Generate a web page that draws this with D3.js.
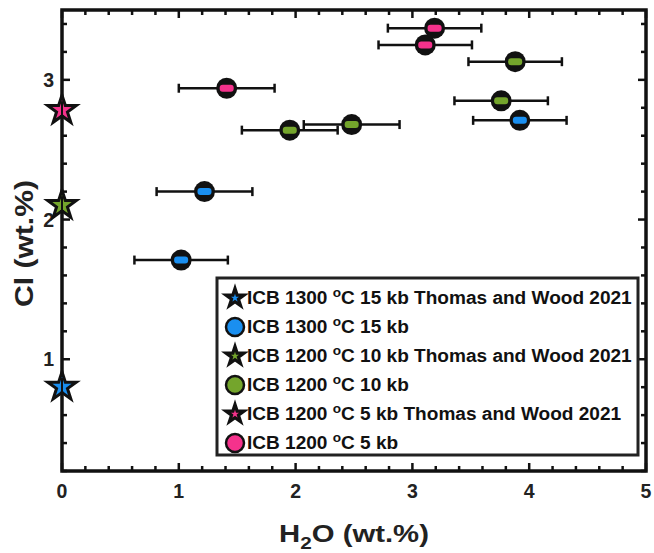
<!DOCTYPE html>
<html><head><meta charset="utf-8">
<script src="https://cdn.jsdelivr.net/npm/d3@7"></script>
<style>
html,body{margin:0;padding:0;background:#fff;}
svg{display:block;font-family:"Liberation Sans",Arial,Helvetica,sans-serif;font-weight:bold;}
</style></head>
<body>
<svg id="chart" width="654" height="553"></svg>
<script>
// ---- data ----
const seriesNames = [
  "ICB 1300 °C 15 kb Thomas and Wood 2021",
  "ICB 1300 °C 15 kb",
  "ICB 1200 °C 10 kb Thomas and Wood 2021",
  "ICB 1200 °C 10 kb",
  "ICB 1200 °C 5 kb Thomas and Wood 2021",
  "ICB 1200 °C 5 kb"
];
const colors = ["#1a8ff0", "#74a52c", "#f5328c"]; // 15 kb, 10 kb, 5 kb

const blueX = [1.02, 1.22, 3.92];
const blueY = [1.71, 2.20, 2.71];
const blueErr = [0.40, 0.41, 0.40];

const greenX = [1.95, 2.48, 3.76, 3.88];
const greenY = [2.64, 2.68, 2.85, 3.13];
const greenErr = [0.41, 0.41, 0.40, 0.40];

const pinkX = [1.41, 3.11, 3.19];
const pinkY = [2.94, 3.25, 3.37];
const pinkErr = [0.41, 0.40, 0.40];

const starX = [0, 0, 0];           // Thomas and Wood 2021 (15 kb, 10 kb, 5 kb)
const starY = [0.81, 2.11, 2.79];
const starYErr = [0.05, 0.05, 0.05];

const xTicks = [0, 1, 2, 3, 4, 5];
const yTicks = [1, 2, 3];

// ---- layout ----
const svg = d3.select("#chart");
const L = 62, R = 646, T = 10, B = 471;
const x = d3.scaleLinear().domain([0, 5]).range([L, R]);
const y = d3.scaleLinear().domain([0.2, 3.5]).range([B, T]);

function starPath(Ro) {
  const Ri = Ro * 0.382, pts = [];
  for (let i = 0; i < 10; i++) {
    const a = -Math.PI / 2 + i * Math.PI / 5, r = i % 2 ? Ri : Ro;
    pts.push([r * Math.cos(a), r * Math.sin(a)]);
  }
  return "M" + pts.map(p => p.join(",")).join("L") + "Z";
}

// ---- axes box & ticks ----
const g = svg.append("g");
const xMinor = d3.range(0, 5.001, 0.2);
const yMinor = d3.range(0.2, 3.501, 0.2);
const isMajor = v => Math.abs(v - Math.round(v)) < 1e-6;

xMinor.forEach(v => {
  const len = isMajor(v) ? 8 : 5;
  g.append("line").attr("x1", x(v)).attr("x2", x(v)).attr("y1", B).attr("y2", B - len)
    .attr("stroke", "#111").attr("stroke-width", 2.5);
  g.append("line").attr("x1", x(v)).attr("x2", x(v)).attr("y1", T).attr("y2", T + len)
    .attr("stroke", "#111").attr("stroke-width", 2.5);
});
yMinor.forEach(v => {
  const len = isMajor(v) ? 8 : 5;
  g.append("line").attr("y1", y(v)).attr("y2", y(v)).attr("x1", L).attr("x2", L + len)
    .attr("stroke", "#111").attr("stroke-width", 2.5);
  g.append("line").attr("y1", y(v)).attr("y2", y(v)).attr("x1", R).attr("x2", R - len)
    .attr("stroke", "#111").attr("stroke-width", 2.5);
});
g.append("rect").attr("x", L).attr("y", T).attr("width", R - L).attr("height", B - T)
  .attr("fill", "none").attr("stroke", "#111").attr("stroke-width", 3.5);

// tick labels
g.selectAll(".xt").data(xTicks).enter().append("text")
  .attr("x", d => x(d)).attr("y", 498).attr("text-anchor", "middle")
  .attr("font-size", 19.5).attr("fill", "#222").text(d => d);
g.selectAll(".yt").data(yTicks).enter().append("text")
  .attr("x", 54).attr("y", d => y(d) + 7).attr("text-anchor", "end")
  .attr("font-size", 19.5).attr("fill", "#222").text(d => d);

// axis labels
const xl = svg.append("text").attr("x", (L + R) / 2).attr("y", 542).attr("text-anchor", "middle")
  .attr("font-size", 24).attr("fill", "#222");
xl.append("tspan").text("H");
xl.append("tspan").attr("font-size", 17).attr("dy", 7).text("2");
xl.append("tspan").attr("dy", -7).text("O (wt.%)");
const xlw = xl.node().getComputedTextLength();
xl.attr("transform", `translate(${(L + R) / 2},0) scale(${150 / xlw},1) translate(${-(L + R) / 2},0)`);

const yl = svg.append("text").attr("transform", `translate(33,243.5) rotate(-90)`)
  .attr("text-anchor", "middle").attr("font-size", 25).attr("fill", "#222").text("Cl (wt.%)");
const ylw = yl.node().getComputedTextLength();
yl.attr("transform", `translate(33,243.5) rotate(-90) scale(${127 / ylw},1)`);

// ---- data marks ----
const groups = [
  {xs: blueX, ys: blueY, es: blueErr, c: colors[0]},
  {xs: greenX, ys: greenY, es: greenErr, c: colors[1]},
  {xs: pinkX, ys: pinkY, es: pinkErr, c: colors[2]}
];
const pg = svg.append("g");
groups.forEach(gr => {
  const data = gr.xs.map((v, i) => ({x: v, y: gr.ys[i], e: gr.es[i]}));
  data.forEach(d => {
    const yy = y(d.y), x0 = x(d.x - d.e), x1 = x(d.x + d.e);
    pg.append("line").attr("x1", x0).attr("x2", x1).attr("y1", yy).attr("y2", yy)
      .attr("stroke", "#111").attr("stroke-width", 2.5);
    [x0, x1].forEach(xc => pg.append("line").attr("x1", xc).attr("x2", xc)
      .attr("y1", yy - 4.5).attr("y2", yy + 4.5).attr("stroke", "#111").attr("stroke-width", 2.5));
  });
  data.forEach(d => {
    pg.append("circle").attr("cx", x(d.x)).attr("cy", y(d.y)).attr("r", 10.5).attr("fill", "#111");
    pg.append("rect").attr("x", x(d.x) - 7).attr("y", y(d.y) - 3.5).attr("width", 14).attr("height", 7)
      .attr("rx", 3).attr("fill", gr.c);
  });
});

// stars (Thomas and Wood 2021)
starX.forEach((sx, i) => {
  const cx = x(sx), cy = y(starY[i]);
  pg.append("path").attr("d", starPath(15)).attr("transform", `translate(${cx},${cy + 1})`)
    .attr("fill", colors[i]).attr("stroke", "#111").attr("stroke-width", 3).attr("stroke-linejoin", "miter");
  const y0 = y(starY[i] - starYErr[i]), y1 = y(starY[i] + starYErr[i]);
  pg.append("line").attr("x1", cx).attr("x2", cx).attr("y1", y0).attr("y2", y1)
    .attr("stroke", "#111").attr("stroke-width", 2);
  [y0, y1].forEach(yc => pg.append("line").attr("x1", cx - 2).attr("x2", cx + 2)
    .attr("y1", yc).attr("y2", yc).attr("stroke", "#111").attr("stroke-width", 2));
});

// ---- legend ----
const lg = svg.append("g");
lg.append("rect").attr("x", 217).attr("y", 278).attr("width", 421).attr("height", 177)
  .attr("fill", "#fff").attr("stroke", "#222").attr("stroke-width", 3);
const rowY = i => 298 + i * 29;
seriesNames.forEach((name, i) => {
  const c = colors[Math.floor(i / 2)], yy = rowY(i);
  if (i % 2 === 0) {
    lg.append("path").attr("d", starPath(9.5)).attr("transform", `translate(235,${yy})`)
      .attr("fill", c).attr("stroke", "#111").attr("stroke-width", 3.2);
  } else {
    lg.append("circle").attr("cx", 235).attr("cy", yy).attr("r", 9)
      .attr("fill", c).attr("stroke", "#111").attr("stroke-width", 2.5);
  }
  const parts = name.split("°");
  const t = lg.append("text").attr("class", "lt").attr("x", 247).attr("y", yy + 6.5)
    .attr("font-size", 17.5).attr("fill", "#111");
  t.append("tspan").text(parts[0]);
  t.append("tspan").attr("font-size", 12.5).attr("dy", -7.5).text("o");
  t.append("tspan").attr("dy", 7.5).text(parts[1]);
});
// fit legend text width to reference (longest row ~385px) by horizontal scaling
const lts = lg.selectAll(".lt").nodes();
const maxW = d3.max(lts, n => n.getComputedTextLength());
const k = 385 / maxW;
lts.forEach(n => {
  d3.select(n).attr("transform", `translate(247,0) scale(${k},1) translate(-247,0)`);
});
</script>
</body></html>
